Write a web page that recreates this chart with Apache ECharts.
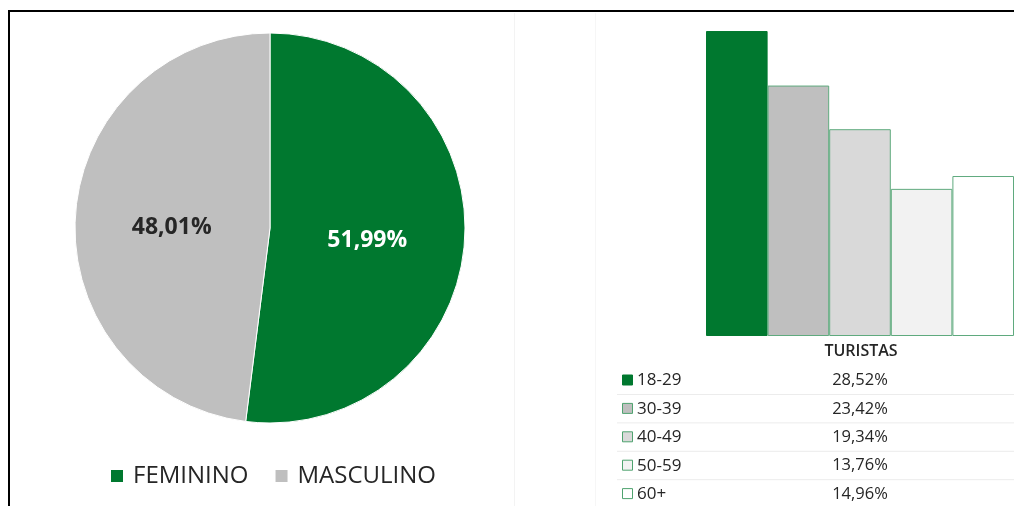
<!DOCTYPE html>
<html>
<head>
<meta charset="utf-8">
<script src="https://cdn.jsdelivr.net/npm/echarts@6/dist/echarts.min.js"></script>
<style>
html,body{margin:0;padding:0;background:#fff;}
#c{width:1014px;height:506px;}
</style>
</head>
<body>
<div id="c"></div>
<script>
var genderNames = ['FEMININO', 'MASCULINO'];
var genderValues = [51.99, 48.01];
var genderColors = ['#00782F', '#BFBFBF'];

var ageGroups = ['18-29', '30-39', '40-49', '50-59', '60+'];
var ageValues = [28.52, 23.42, 19.34, 13.76, 14.96];
var ageFills = ['#00782F', '#BFBFBF', '#D9D9D9', '#F2F2F2', '#FFFFFF'];
var seriesTitle = 'TURISTAS';

function fmt(v) { return v.toFixed(2).replace('.', ',') + '%'; }

var FONT = '"Open Sans", "Noto Sans", sans-serif';
var chart = echarts.init(document.getElementById('c'), null, {renderer: 'canvas'});

var graphics = [
  {type: 'line', shape: {x1: 8, y1: 11, x2: 1014, y2: 11}, style: {stroke: '#000', lineWidth: 2}},
  {type: 'line', shape: {x1: 9, y1: 10, x2: 9, y2: 506}, style: {stroke: '#000', lineWidth: 2}},
  {type: 'line', shape: {x1: 514.5, y1: 13, x2: 514.5, y2: 506}, style: {stroke: '#f3f3f3', lineWidth: 1}},
  {type: 'line', shape: {x1: 595.5, y1: 13, x2: 595.5, y2: 506}, style: {stroke: '#f6f6f6', lineWidth: 1}},
  {type: 'text', x: 861, y: 351, style: {text: seriesTitle, font: '600 16px ' + FONT, fill: '#262626', textAlign: 'center', textVerticalAlign: 'middle'}}
];
var rowY0 = 380.5, rowH = 28.4;
ageGroups.forEach(function (g, i) {
  var y = rowY0 + i * rowH;
  graphics.push({type: 'rect', shape: {x: 622.5, y: y - 5.5, width: 10, height: 10},
    style: {fill: ageFills[i], stroke: i === 0 ? '#00782F' : '#4FA36F', lineWidth: 1}});
  graphics.push({type: 'text', x: 637, y: y, style: {text: g, font: '17px ' + FONT, fill: '#262626', textVerticalAlign: 'middle'}});
  graphics.push({type: 'text', x: 860, y: y, style: {text: fmt(ageValues[i]), font: '16.5px ' + FONT, fill: '#262626', textAlign: 'center', textVerticalAlign: 'middle'}});
  if (i < ageGroups.length - 1) {
    graphics.push({type: 'line', shape: {x1: 617, y1: y + 14, x2: 1014, y2: y + 14}, style: {stroke: '#ececec', lineWidth: 1}});
  }
});

var option = {
  backgroundColor: '#fff',
  animation: false,
  textStyle: {fontFamily: FONT},
  legend: {
    data: genderNames,
    left: 104,
    top: 459,
    icon: 'rect',
    itemWidth: 14,
    itemHeight: 14,
    itemGap: 25,
    textStyle: {fontSize: 24, color: '#262626', fontFamily: FONT, padding: [0, 0, 0, 4]}
  },
  grid: {left: 706, top: 15.2, width: 308.5, height: 320.8},
  xAxis: {type: 'category', data: ageGroups, show: false},
  yAxis: {type: 'value', min: 0, max: 30, show: false},
  series: [
    {
      type: 'pie',
      center: [270, 228],
      radius: 195,
      startAngle: 90,
      clockwise: true,
      data: genderNames.map(function (n, i) {
        return {name: n, value: genderValues[i], itemStyle: {color: genderColors[i]},
          label: {color: i === 0 ? '#ffffff' : '#262626', offset: i === 0 ? [-3, 6] : [2, 6]}};
      }),
      itemStyle: {borderColor: '#ffffff', borderWidth: 1},
      label: {show: true, position: 'inside', fontSize: 23, fontWeight: 'bold', fontFamily: FONT,
        formatter: function (p) { return fmt(p.value); }},
      labelLine: {show: false},
      emphasis: {disabled: true}
    },
    {
      type: 'bar',
      barCategoryGap: 0,
      data: ageValues.map(function (v, i) {
        return {value: v, itemStyle: {color: ageFills[i], borderColor: i === 0 ? '#00782F' : '#5FAA7E', borderWidth: 1}};
      }),
      emphasis: {disabled: true}
    }
  ],
  graphic: graphics
};
chart.setOption(option);
</script>
</body>
</html>
